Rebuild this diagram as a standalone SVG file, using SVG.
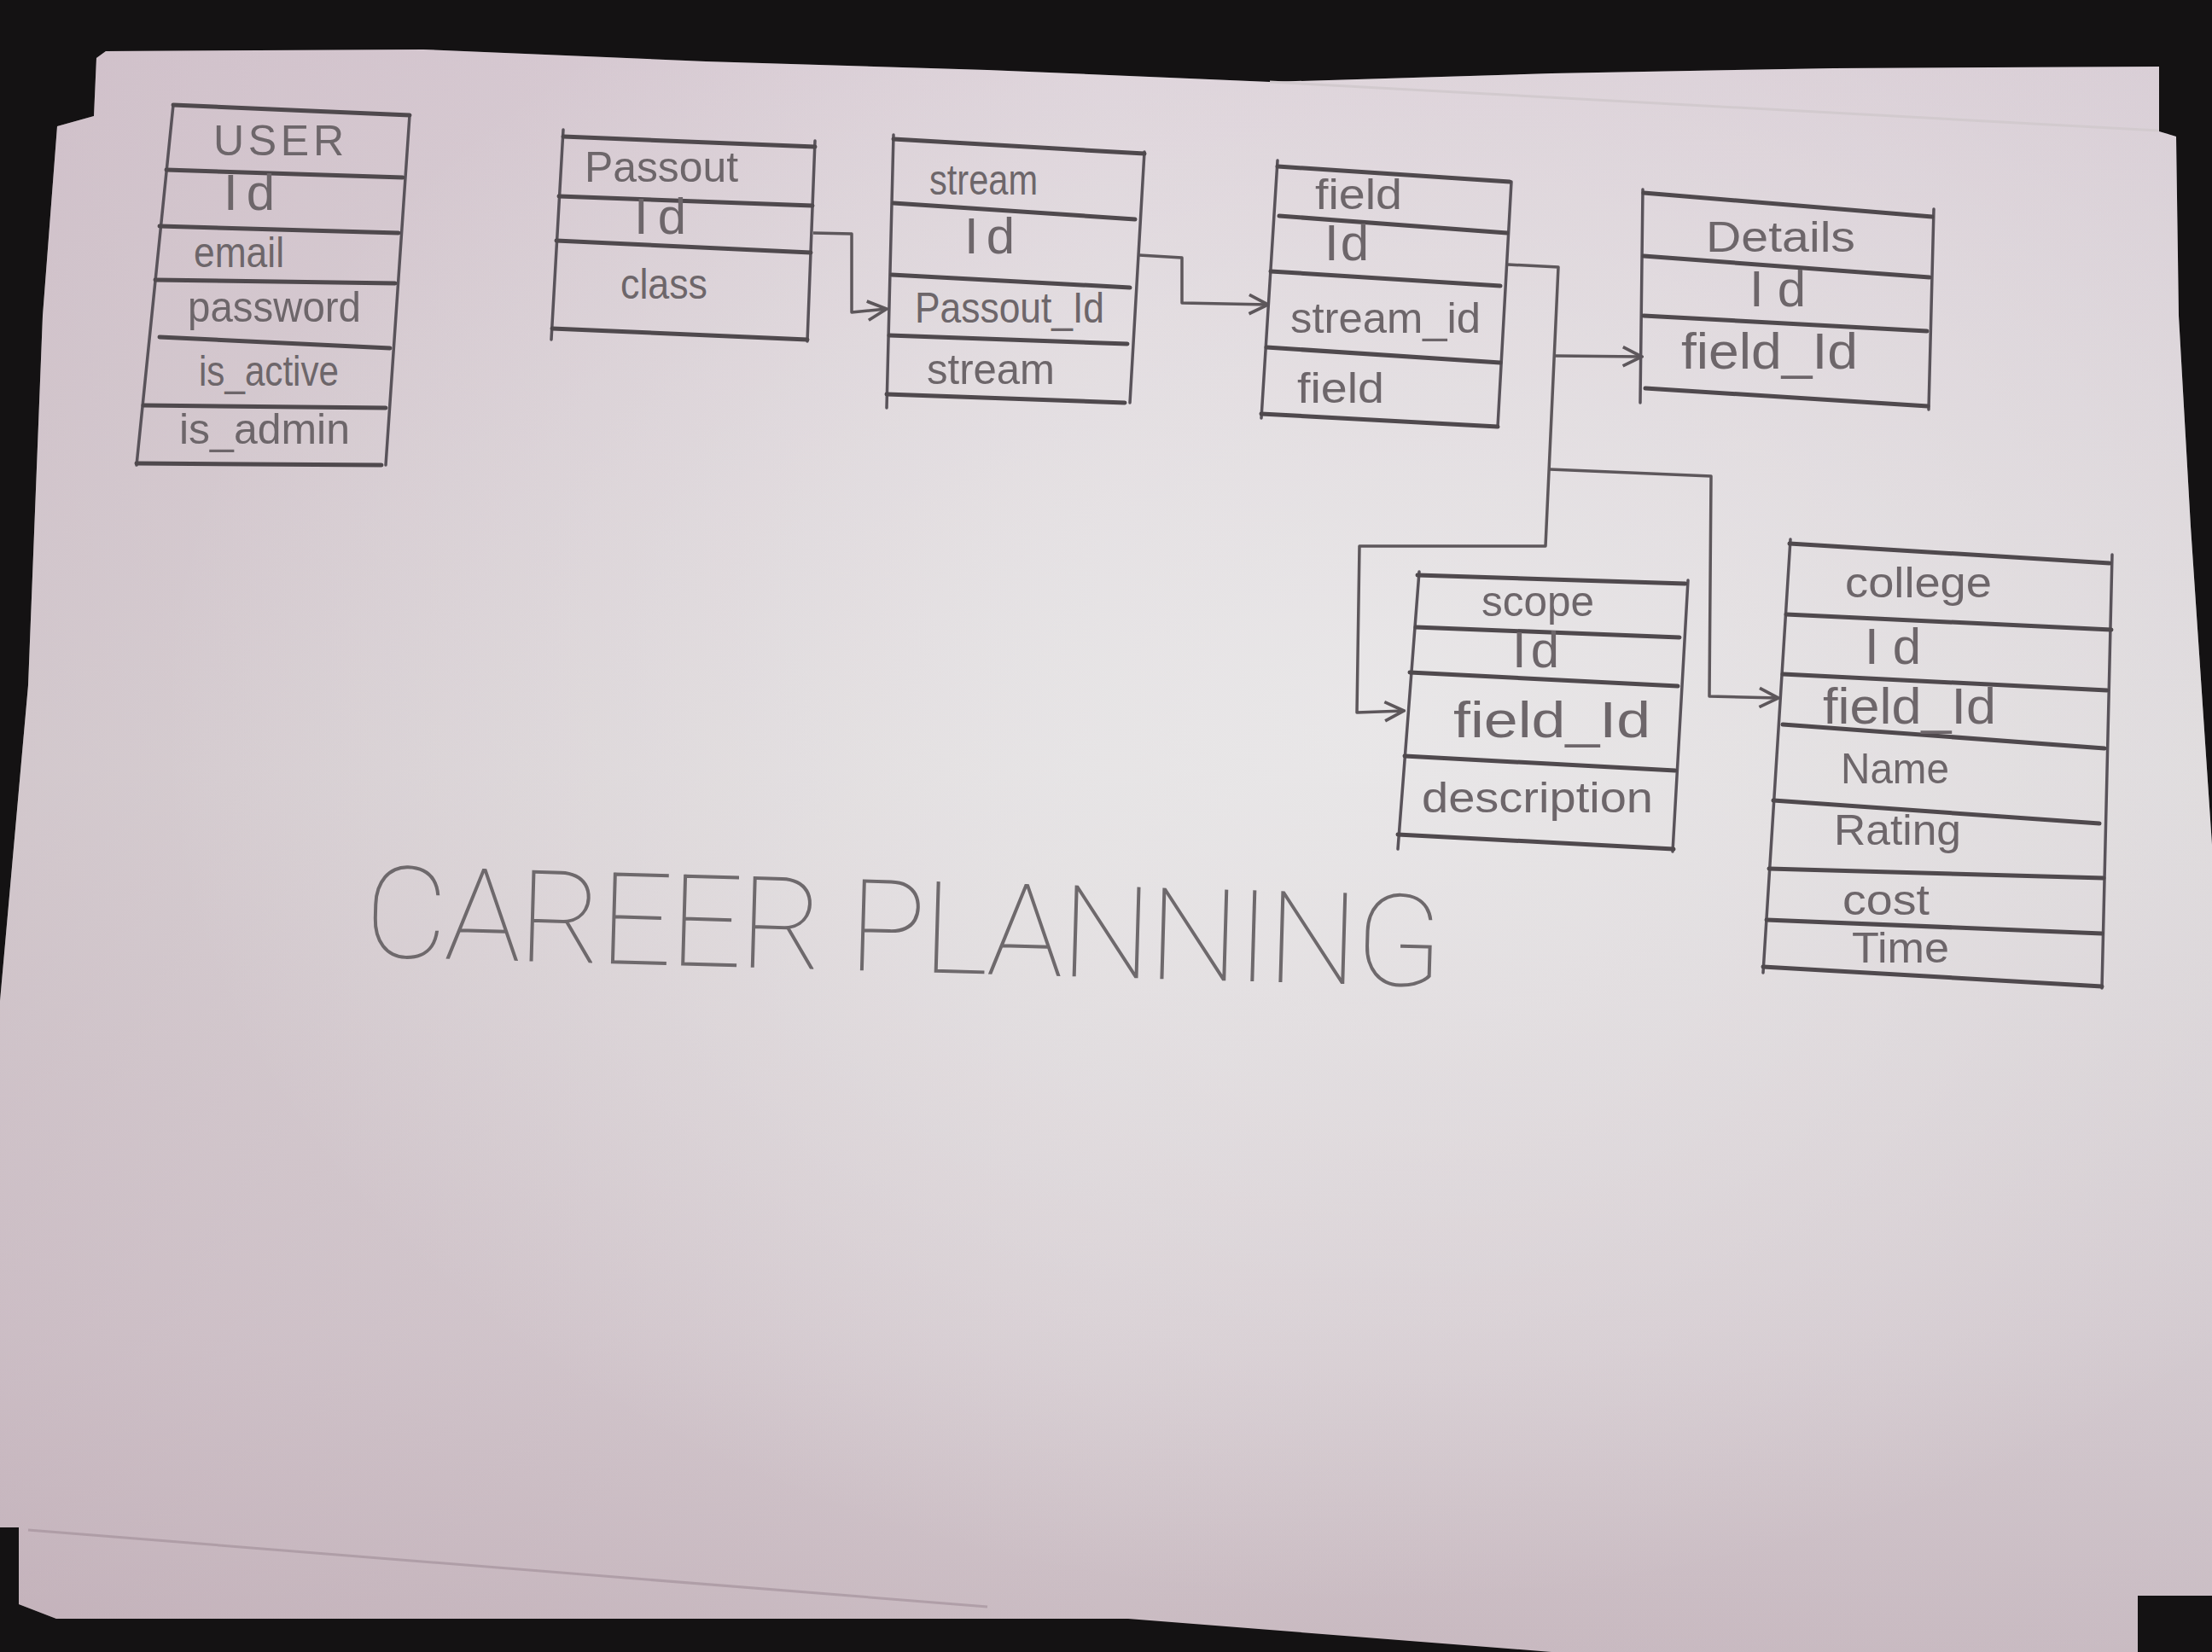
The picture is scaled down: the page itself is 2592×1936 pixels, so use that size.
<svg xmlns="http://www.w3.org/2000/svg" width="2592" height="1936" viewBox="0 0 2592 1936">
<defs>
<linearGradient id="pv" x1="0" y1="0" x2="0" y2="1">
<stop offset="0" stop-color="#dcd0d8"/>
<stop offset="0.45" stop-color="#e0dcdd"/>
<stop offset="0.8" stop-color="#d6ccd1"/>
<stop offset="1" stop-color="#c9bac1"/>
</linearGradient>
<radialGradient id="hl" cx="0.62" cy="0.42" r="0.55">
<stop offset="0" stop-color="#ecebec" stop-opacity="0.75"/>
<stop offset="1" stop-color="#ecebec" stop-opacity="0"/>
</radialGradient>
<linearGradient id="ph" x1="0" y1="0" x2="1" y2="0">
<stop offset="0" stop-color="#b9a2ae" stop-opacity="0.35"/>
<stop offset="0.5" stop-color="#b9a2ae" stop-opacity="0"/>
<stop offset="1" stop-color="#c9c4cc" stop-opacity="0.15"/>
</linearGradient>
<marker id="arr" viewBox="0 0 14 14" refX="13" refY="7" markerWidth="26" markerHeight="26" markerUnits="userSpaceOnUse" orient="auto">
<path d="M1,1 L13,7 L1,13" fill="none" stroke="#5d575b" stroke-width="2"/>
</marker>
<style>
.h{fill:none;stroke:#4f494d;stroke-width:5;stroke-linecap:round}
.v{fill:none;stroke:#59535a;stroke-width:3.5;stroke-linecap:round}
.c{fill:none;stroke:#5d575b;stroke-width:3.5;stroke-linejoin:round}
.t{font-family:"Liberation Sans","DejaVu Sans",sans-serif;font-size:50px;fill:#6d666a}
.id{font-size:60px}
.fi{font-size:60px}
.ti{font-family:Roboto,Lato,"Open Sans",sans-serif;font-weight:100;font-size:150px;fill:#6e696c}
</style>
</defs>
<rect width="2592" height="1936" fill="#141213"/>
<g id="paper">
<polygon points="124,60 496,58 827,72 1157,82 1488,96 1818,86 2149,80 2530,78 2530,154 2550,160 2553,370 2567,617 2592,990 2592,1870 2505,1870 2505,1936 1818,1936 1322,1897 66,1897 22,1880 22,1790 0,1790 0,1173 33,803 50,370 67,148 110,136 113,68" fill="url(#pv)"/>
<polygon points="124,60 496,58 827,72 1157,82 1488,96 1818,86 2149,80 2530,78 2530,154 2550,160 2553,370 2567,617 2592,990 2592,1870 2505,1870 2505,1936 1818,1936 1322,1897 66,1897 22,1880 22,1790 0,1790 0,1173 33,803 50,370 67,148 110,136 113,68" fill="url(#ph)"/>
<polygon points="124,60 496,58 827,72 1157,82 1488,96 1818,86 2149,80 2530,78 2530,154 2550,160 2553,370 2567,617 2592,990 2592,1870 2505,1870 2505,1936 1818,1936 1322,1897 66,1897 22,1880 22,1790 0,1790 0,1173 33,803 50,370 67,148 110,136 113,68" fill="url(#hl)"/>
<path d="M1488,96 L2529,153" fill="none" stroke="#d2cace" stroke-width="3"/>
<path d="M33,1793 L1157,1883" fill="none" stroke="#9f8c96" stroke-width="3" opacity="0.6"/>
</g>
<g id="connectors">
<polyline class="c" points="953,273 998,274 998,366 1039,362" marker-end="url(#arr)"/>
<polyline class="c" points="1335,299 1385,302 1385,355 1486,357" marker-end="url(#arr)"/>
<polyline class="c" points="1767,310 1826,313 1811,640 1593,640 1590,835 1645,833" marker-end="url(#arr)"/>
<polyline class="c" points="1822,417 1924,418" marker-end="url(#arr)"/>
<polyline class="c" points="1816,550 2005,558 2003,816 2084,818" marker-end="url(#arr)"/>
</g>
<g id="user">
<path class="v" d="M203,123 L160,545 M480,135 L452,545"/>
<path class="h" d="M203,123 L480,135 M195,199 L472,208 M187,265 L467,273 M182,328 L463,332 M187,395 L457,408 M168,475 L452,478 M160,543 L447,545"/>
<text class="t" x="250" y="182" textLength="153" font-size="58">USER</text>
<text class="t id" x="262" y="246" textLength="60">Id</text>
<text class="t" x="227" y="313" textLength="106" lengthAdjust="spacingAndGlyphs">email</text>
<text class="t" x="220" y="377" textLength="203" lengthAdjust="spacingAndGlyphs">password</text>
<text class="t" x="233" y="452" textLength="164" lengthAdjust="spacingAndGlyphs">is_active</text>
<text class="t" x="210" y="520" textLength="200" lengthAdjust="spacingAndGlyphs">is_admin</text>
</g>
<g id="passout">
<path class="v" d="M660,152 L646,398 M955,165 L946,400"/>
<path class="h" d="M660,160 L955,172 M655,230 L952,241 M652,282 L950,296 M647,385 L946,398"/>
<text class="t" x="685" y="213" textLength="180" lengthAdjust="spacingAndGlyphs">Passout</text>
<text class="t id" x="743" y="274" textLength="61">Id</text>
<text class="t" x="727" y="350" textLength="102" lengthAdjust="spacingAndGlyphs">class</text>
</g>
<g id="stream">
<path class="v" d="M1047,158 L1039,478 M1341,178 L1324,472"/>
<path class="h" d="M1047,163 L1341,180 M1047,238 L1330,257 M1045,322 L1324,337 M1042,393 L1321,403 M1039,462 L1318,472"/>
<text class="t" x="1089" y="228" textLength="127" lengthAdjust="spacingAndGlyphs">stream</text>
<text class="t id" x="1130" y="297" textLength="59">Id</text>
<text class="t" x="1072" y="378" textLength="222" lengthAdjust="spacingAndGlyphs">Passout_Id</text>
<text class="t" x="1086" y="450" textLength="150" lengthAdjust="spacingAndGlyphs">stream</text>
</g>
<g id="field">
<path class="v" d="M1497,188 L1478,490 M1771,213 L1755,500"/>
<path class="h" d="M1497,195 L1769,213 M1499,253 L1766,273 M1489,318 L1758,335 M1484,407 L1758,425 M1478,485 L1755,500"/>
<text class="t" x="1541" y="245" textLength="102" lengthAdjust="spacingAndGlyphs">field</text>
<text class="t id" x="1552" y="305" textLength="52">Id</text>
<text class="t" x="1512" y="390" textLength="223" lengthAdjust="spacingAndGlyphs">stream_id</text>
<text class="t" x="1520" y="472" textLength="102" lengthAdjust="spacingAndGlyphs">field</text>
</g>
<g id="details">
<path class="v" d="M1925,222 L1922,472 M2266,245 L2260,480"/>
<path class="h" d="M1926,226 L2264,254 M1926,300 L2261,325 M1926,370 L2258,388 M1928,455 L2259,476"/>
<text class="t" x="1999" y="295" textLength="175" lengthAdjust="spacingAndGlyphs" font-size="56">Details</text>
<text class="t id" x="2050" y="359" textLength="66">Id</text>
<text class="t fi" x="1970" y="432" textLength="207" lengthAdjust="spacingAndGlyphs">field_Id</text>
</g>
<g id="scope">
<path class="v" d="M1663,670 L1638,995 M1978,680 L1960,998"/>
<path class="h" d="M1661,674 L1975,684 M1659,735 L1968,747 M1652,788 L1966,804 M1646,886 L1963,903 M1638,978 L1961,995"/>
<text class="t" x="1736" y="722" textLength="132" lengthAdjust="spacingAndGlyphs">scope</text>
<text class="t id" x="1772" y="782" textLength="55">Id</text>
<text class="t fi" x="1703" y="864" textLength="231" lengthAdjust="spacingAndGlyphs">field_Id</text>
<text class="t" x="1666" y="952" textLength="271" lengthAdjust="spacingAndGlyphs">description</text>
</g>
<g id="college">
<path class="v" d="M2098,632 L2066,1140 M2475,650 L2463,1158"/>
<path class="h" d="M2097,637 L2472,660 M2093,720 L2474,738 M2089,790 L2469,809 M2089,849 L2466,877 M2078,938 L2460,965 M2073,1018 L2465,1029 M2070,1078 L2463,1094 M2066,1133 L2463,1156"/>
<text class="t" x="2162" y="700" textLength="172" lengthAdjust="spacingAndGlyphs">college</text>
<text class="t id" x="2185" y="778" textLength="66">Id</text>
<text class="t fi" x="2136" y="848" textLength="203" lengthAdjust="spacingAndGlyphs">field_Id</text>
<text class="t" x="2157" y="918" textLength="127" lengthAdjust="spacingAndGlyphs">Name</text>
<text class="t" x="2149" y="990" textLength="149" lengthAdjust="spacingAndGlyphs">Rating</text>
<text class="t" x="2159" y="1072" textLength="102" lengthAdjust="spacingAndGlyphs">cost</text>
<text class="t" x="2170" y="1128" textLength="114" lengthAdjust="spacingAndGlyphs">Time</text>
</g>
<g id="title">
<text class="ti" x="426" y="1121" textLength="1264" transform="rotate(1.6 426 1121)">CAREER PLANNING</text>
</g>
</svg>
